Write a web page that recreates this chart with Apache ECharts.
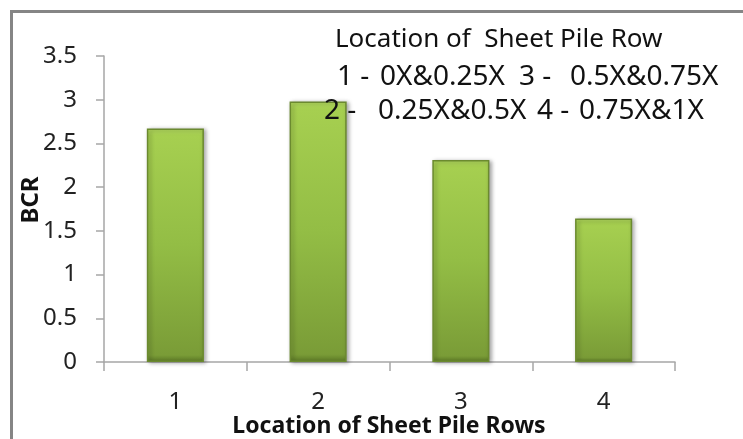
<!DOCTYPE html>
<html>
<head>
<meta charset="utf-8">
<script src="https://cdn.jsdelivr.net/npm/echarts@6/dist/echarts.min.js"></script>
<style>
html,body{margin:0;padding:0;background:#fff;}
#c{width:743px;height:439px;}
</style>
</head>
<body>
<div id="c"></div>
<script>
const categories = ['1', '2', '3', '4'];
const bcrValues = [2.67, 2.98, 2.31, 1.64];
const yTicks = [0, 0.5, 1, 1.5, 2, 2.5, 3, 3.5];
const legendTitle = 'Location of  Sheet Pile Row';
const legendNumbersRow1 = ['1 -', '3 -'];
const legendRangesRow1 = ['0X&0.25X', '0.5X&0.75X'];
const legendNumbersRow2 = ['2 -', '4 -'];
const legendRangesRow2 = ['0.25X&0.5X', '0.75X&1X'];
const xName = 'Location of Sheet Pile Rows';
const yName = 'BCR';

const FONT = "'Noto Sans', sans-serif";
function legendText(text, left, top, size) {
  return {type: 'text', left: left, top: top, z: 100, zlevel: 1, silent: true,
          style: {text: text, fontSize: size, fontFamily: FONT, fill: '#111'}};
}

const chart = echarts.init(document.getElementById('c'), null, {renderer: 'canvas'});
chart.setOption({
  animation: false,
  backgroundColor: '#fff',
  grid: {left: 104, right: 68, top: 56, bottom: 77, outerBoundsMode: 'none', containLabel: false},
  xAxis: {
    type: 'category',
    data: categories,
    boundaryGap: true,
    axisLine: {lineStyle: {color: '#a6a6a6', width: 1.5}},
    axisTick: {show: true, alignWithLabel: false, length: 9, lineStyle: {color: '#a6a6a6', width: 1.5}},
    axisLabel: {color: '#222', fontSize: 24, fontFamily: FONT, margin: 28}
  },
  yAxis: {
    type: 'value',
    min: 0, max: 3.5, interval: 0.5,
    axisLine: {show: true, lineStyle: {color: '#a6a6a6', width: 1.5}},
    axisTick: {show: true, length: 8, lineStyle: {color: '#a6a6a6', width: 1.5}},
    splitLine: {show: false},
    axisLabel: {color: '#222', fontSize: 24, fontFamily: FONT, margin: 27,
      formatter: function (v) { const t = yTicks.find(t => Math.abs(t - v) < 1e-9); return String(t === undefined ? v : t); }}
  },
  series: [{
    type: 'bar',
    data: bcrValues,
    barWidth: '40%',
    itemStyle: {
      color: new echarts.graphic.LinearGradient(0, 0, 0, 1, [
        {offset: 0, color: '#b6de60'},
        {offset: 0.03, color: '#a6cf50'},
        {offset: 0.5, color: '#93bd45'},
        {offset: 0.97, color: '#7a9c37'},
        {offset: 1, color: '#5f7d28'}
      ]),
      borderColor: '#6b8a2f',
      borderWidth: 1.5,
      shadowColor: 'rgba(0,0,0,0.35)',
      shadowBlur: 4,
      shadowOffsetX: 2,
      shadowOffsetY: 1
    }
  }],
  graphic: [
    {type: 'rect', left: 9, top: 9, shape: {width: 760, height: 460}, style: {fill: 'none', stroke: '#858585', lineWidth: 3}, silent: true},
    {type: 'text', x: 31, y: 200, rotation: Math.PI / 2, silent: true,
     style: {text: yName, fontSize: 24, fontWeight: 'bold', fontFamily: FONT, fill: '#111', align: 'center', verticalAlign: 'middle'}},
    {type: 'text', x: 389, y: 426, silent: true,
     style: {text: xName, fontSize: 23, fontWeight: 'bold', fontFamily: FONT, fill: '#111', align: 'center', verticalAlign: 'middle'}},
    legendText(legendTitle, 335, 27, 26),
    legendText(legendNumbersRow1[0], 337, 63, 28),
    legendText(legendRangesRow1[0], 380, 63, 28),
    legendText(legendNumbersRow1[1], 519, 63, 28),
    legendText(legendRangesRow1[1], 570, 63, 28),
    legendText(legendNumbersRow2[0], 324, 97, 28),
    legendText(legendRangesRow2[0], 378, 97, 28),
    legendText(legendNumbersRow2[1], 537, 97, 28),
    legendText(legendRangesRow2[1], 579, 97, 28)
  ]
});
</script>
</body>
</html>
